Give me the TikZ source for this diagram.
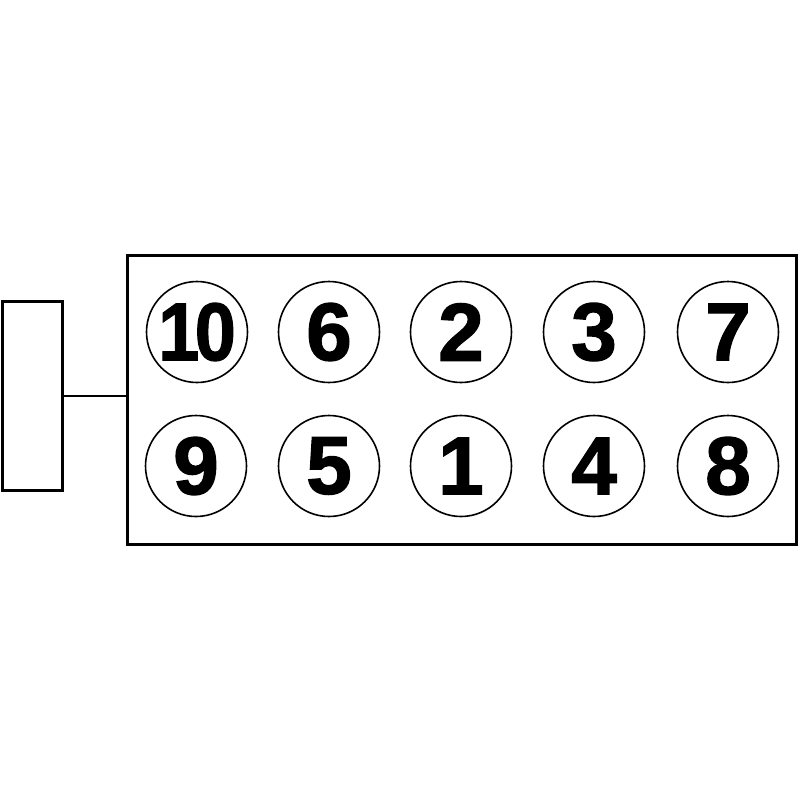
\documentclass[tikz,border=0pt]{standalone}
\usepackage{fontspec}
\usepackage{graphicx}
\setmainfont{Liberation Sans}
\newfontfamily\heavyfont[FakeBold=1.6]{Liberation Sans Bold}
\begin{document}
\begin{tikzpicture}[x=1pt,y=-1pt,
  frame/.style={draw=black,line width=3pt},
  hole/.style={circle,draw=black,line width=1.6pt,minimum size=101pt,inner sep=0pt,
    font=\heavyfont\fontsize{82}{82}\selectfont}]
\useasboundingbox (0,0) rectangle (800,800);
\node[frame,minimum width=60pt,minimum height=189pt,inner sep=0pt] (side) at (32,395.5) {};
\node[frame,minimum width=669pt,minimum height=289pt,inner sep=0pt] (block) at (462,399.5) {};
\draw[line width=2.5pt] (side.east |- 0,396) -- (block.west |- 0,396);
\node[hole] (h10) at (197,332) {\scalebox{0.9}[1]{1\kern-5pt 0}};
\node[hole] (h6) at (329,332) {6};
\node[hole] (h2) at (461,332) {2};
\node[hole] (h3) at (594,332) {3};
\node[hole] (h7) at (728,332) {7};
\node[hole] (h9) at (196,466) {9};
\node[hole] (h5) at (329,466) {5};
\node[hole] (h1) at (461,466) {1};
\node[hole] (h4) at (594,466) {4};
\node[hole] (h8) at (728,466) {8};
\end{tikzpicture}
\end{document}
